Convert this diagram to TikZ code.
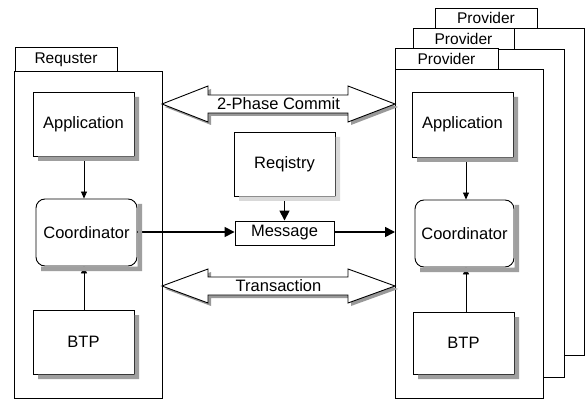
\documentclass[tikz,border=0pt]{standalone}
\usepackage{fontspec}
\setmainfont{Liberation Sans}
\usetikzlibrary{arrows.meta}
\begin{document}
\begin{tikzpicture}[x=1pt,y=-1pt,line width=0.9pt]
\tikzset{
  boxfont/.style={font=\fontsize{16.5}{19}\selectfont},
  tabfont/.style={font=\fontsize{15.5}{18}\selectfont},
  comp/.style={draw,fill=white,boxfont,inner sep=0pt},
  link/.style={-{Triangle[length=7pt,width=6pt]},line width=0.8pt},
  flow/.style={-{Triangle[length=10pt,width=10pt]},line width=1.6pt}
}
\useasboundingbox (0,0) rectangle (587,401);

% requester frame
\draw[fill=white] (15,47) rectangle (117,71);
\draw[fill=white] (14,71) rectangle (162,398);
% stacked provider frames, back to front
\draw[fill=white] (435,28) rectangle (584,355);
\draw[fill=white] (435,8) rectangle (537,28);
\draw[fill=white] (413,49) rectangle (564,377);
\draw[fill=white] (413,28) rectangle (514,49);
\draw[fill=white] (395,69) rectangle (543,398);
\draw[fill=white] (395,48) rectangle (498,69);

\node[tabfont] (reqtab) at (66,59.5) {Requster};
\node[tabfont] (ptab3) at (486,18) {Provider};
\node[tabfont] (ptab2) at (463.5,38.5) {Provider};
\node[tabfont] (ptab1) at (446.5,58.5) {Provider};

\coordinate (reqE1) at (162,104);
\coordinate (reqE2) at (162,286);
\coordinate (provW) at (395,232);
\coordinate (provW1) at (395,104);
\coordinate (provW2) at (395,286);

% requester components
\node[comp,minimum width=101pt,minimum height=64pt] (rapp) at (83.5,124) {Application};
\node[comp,rounded corners=9pt,minimum width=101pt,minimum height=67pt] (rcoord) at (86.5,232.5) {Coordinator};
\node[comp,minimum width=101pt,minimum height=64pt] (rbtp) at (83.5,342) {BTP};
\draw[link] (84,0 |- rapp.south) -- (84,0 |- rcoord.north);
\draw[link] (84,0 |- rbtp.north) -- (84,0 |- rcoord.south);

% provider components
\node[comp,minimum width=101pt,minimum height=65pt] (papp) at (462.5,124.5) {Application};
\node[comp,rounded corners=9pt,minimum width=99pt,minimum height=67pt] (pcoord) at (464.5,233.5) {Coordinator};
\node[comp,minimum width=101pt,minimum height=62pt] (pbtp) at (463.5,343) {BTP};
\draw[link] (466,0 |- papp.south) -- (466,0 |- pcoord.north);
\draw[link] (466,0 |- pbtp.north) -- (466,0 |- pcoord.south);

% registry and message
\node[comp,minimum width=101pt,minimum height=64pt] (reg) at (284.5,164) {Reqistry};
\node[comp,minimum width=99pt,minimum height=24pt] (msg) at (284.5,233) {Message};
\draw[flow] (reg.south) -- (msg.north);
\draw[flow] (rcoord.east |- 0,232) -- (msg.west |- 0,232);
\draw[flow] (msg.east |- 0,232) -- (provW);

% drop-shadow strips along the right and lower sides of the boxes
\foreach \xa/\ya/\xb/\yb/\col in {33/92/134/156/gray!75, 36/199/137/266/gray!75,
    33/310/134/374/gray!75, 412/92/513/157/gray!75, 415/200/514/267/gray!75,
    413/312/514/374/gray!75, 234/132/335/196/gray!30}{
  \fill[\col] (\xb+0.5,\ya+5) -- (\xb+5,\ya+5) -- (\xb+5,\yb+5) -- (\xa+5,\yb+5)
    -- (\xa+5,\yb+0.5) -- (\xb+0.5,\yb+0.5) -- cycle;
}

% two-headed block arrows between the frames, each with a shadow
\foreach \i/\c/\ha/\sa in {1/104/18/9,2/286/17/9}{
  \begin{scope}[shift={(3,3)}]
    \fill[gray!80] (162,\c) -- (208,\c-\ha) -- (208,\c-\sa) -- (348,\c-\sa) -- (348,\c-\ha)
      -- (395,\c) -- (348,\c+\ha) -- (348,\c+\sa) -- (208,\c+\sa) -- (208,\c+\ha) -- cycle;
  \end{scope}
  \draw[fill=white] (reqE\i) -- (208,\c-\ha) -- (208,\c-\sa) -- (348,\c-\sa) -- (348,\c-\ha)
      -- (provW\i) -- (348,\c+\ha) -- (348,\c+\sa) -- (208,\c+\sa) -- (208,\c+\ha) -- cycle;
}
\node[boxfont,inner sep=0pt] (commit) at (278.5,103.5) {2-Phase Commit};
\node[boxfont,inner sep=0pt] (trans) at (278.5,285.5) {Transaction};
\end{tikzpicture}
\end{document}
